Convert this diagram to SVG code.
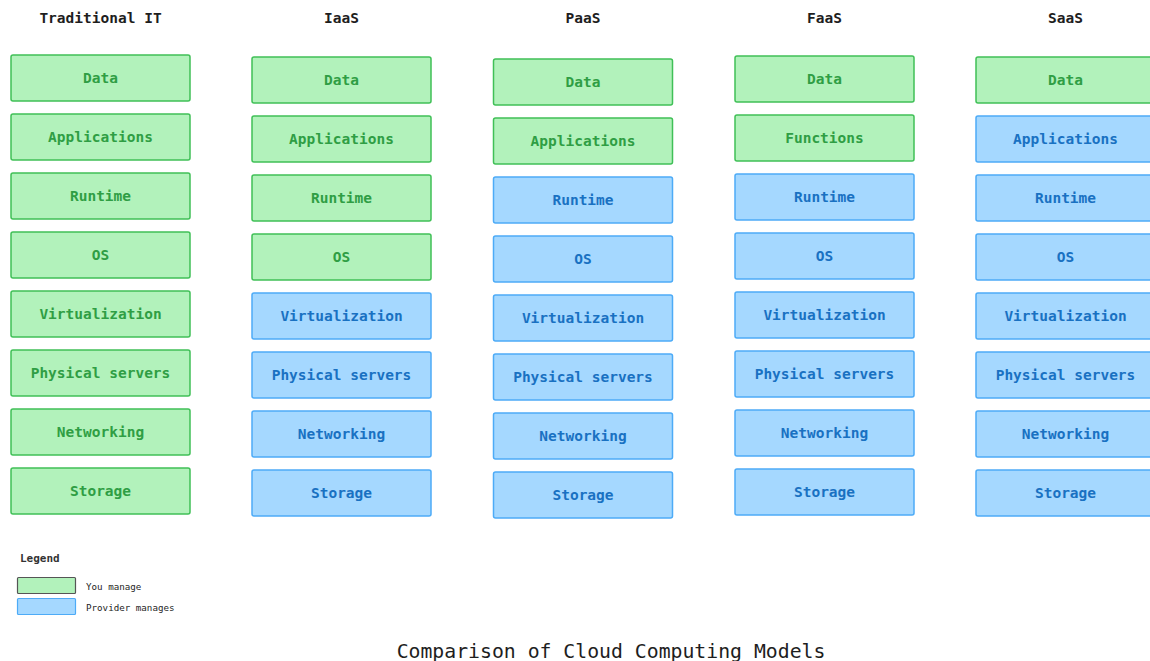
<svg xmlns="http://www.w3.org/2000/svg" width="1150" height="661" viewBox="0 0 1150 661">
  <style>
    .head { font-family: "DejaVu Sans Mono", "Liberation Mono", monospace; font-size: 14.5px; font-weight: bold; fill: #1e1e1e; text-anchor: middle; }
    .lbl { font-family: "DejaVu Sans Mono", "Liberation Mono", monospace; font-size: 14.5px; font-weight: bold; text-anchor: middle; dominant-baseline: central; }
    .you rect { fill: #b2f2bb; stroke: #40c057; stroke-width: 1.5; }
    .you text { fill: #2f9e44; }
    .prov rect { fill: #a5d8ff; stroke: #4dabf7; stroke-width: 1.5; }
    .prov text { fill: #1971c2; }
    .legend-title { font-family: "DejaVu Sans Mono", "Liberation Mono", monospace; font-size: 11px; font-weight: bold; fill: #333333; }
    .legend-txt { font-family: "DejaVu Sans Mono", "Liberation Mono", monospace; font-size: 9.2px; fill: #1e1e1e; }
    .title { font-family: "DejaVu Sans Mono", "Liberation Mono", monospace; font-size: 19.8px; fill: #1e1e1e; text-anchor: middle; }
  </style>

  <rect width="1150" height="661" fill="#ffffff"/>

  <!-- column headers -->
  <g id="headers">
    <text class="head" x="100.5" y="23">Traditional IT</text>
    <text class="head" x="341.5" y="23">IaaS</text>
    <text class="head" x="583" y="23">PaaS</text>
    <text class="head" x="824.5" y="23">FaaS</text>
    <text class="head" x="1065.5" y="23">SaaS</text>
  </g>

  <!-- Traditional IT: everything self-managed -->
  <g id="col-traditional">
    <g id="trad-data" class="you"><rect x="11" y="55" width="179" height="46" rx="2"/><text class="lbl" x="100.5" y="78">Data</text></g>
    <g id="trad-apps" class="you"><rect x="11" y="114" width="179" height="46" rx="2"/><text class="lbl" x="100.5" y="137">Applications</text></g>
    <g id="trad-runtime" class="you"><rect x="11" y="173" width="179" height="46" rx="2"/><text class="lbl" x="100.5" y="196">Runtime</text></g>
    <g id="trad-os" class="you"><rect x="11" y="232" width="179" height="46" rx="2"/><text class="lbl" x="100.5" y="255">OS</text></g>
    <g id="trad-virt" class="you"><rect x="11" y="291" width="179" height="46" rx="2"/><text class="lbl" x="100.5" y="314">Virtualization</text></g>
    <g id="trad-phys" class="you"><rect x="11" y="350" width="179" height="46" rx="2"/><text class="lbl" x="100.5" y="373">Physical servers</text></g>
    <g id="trad-net" class="you"><rect x="11" y="409" width="179" height="46" rx="2"/><text class="lbl" x="100.5" y="432">Networking</text></g>
    <g id="trad-storage" class="you"><rect x="11" y="468" width="179" height="46" rx="2"/><text class="lbl" x="100.5" y="491">Storage</text></g>
  </g>

  <!-- IaaS -->
  <g id="col-iaas">
    <g id="iaas-data" class="you"><rect x="252" y="57" width="179" height="46" rx="2"/><text class="lbl" x="341.5" y="80">Data</text></g>
    <g id="iaas-apps" class="you"><rect x="252" y="116" width="179" height="46" rx="2"/><text class="lbl" x="341.5" y="139">Applications</text></g>
    <g id="iaas-runtime" class="you"><rect x="252" y="175" width="179" height="46" rx="2"/><text class="lbl" x="341.5" y="198">Runtime</text></g>
    <g id="iaas-os" class="you"><rect x="252" y="234" width="179" height="46" rx="2"/><text class="lbl" x="341.5" y="257">OS</text></g>
    <g id="iaas-virt" class="prov"><rect x="252" y="293" width="179" height="46" rx="2"/><text class="lbl" x="341.5" y="316">Virtualization</text></g>
    <g id="iaas-phys" class="prov"><rect x="252" y="352" width="179" height="46" rx="2"/><text class="lbl" x="341.5" y="375">Physical servers</text></g>
    <g id="iaas-net" class="prov"><rect x="252" y="411" width="179" height="46" rx="2"/><text class="lbl" x="341.5" y="434">Networking</text></g>
    <g id="iaas-storage" class="prov"><rect x="252" y="470" width="179" height="46" rx="2"/><text class="lbl" x="341.5" y="493">Storage</text></g>
  </g>

  <!-- PaaS -->
  <g id="col-paas">
    <g id="paas-data" class="you"><rect x="493.5" y="59" width="179" height="46" rx="2"/><text class="lbl" x="583" y="82">Data</text></g>
    <g id="paas-apps" class="you"><rect x="493.5" y="118" width="179" height="46" rx="2"/><text class="lbl" x="583" y="141">Applications</text></g>
    <g id="paas-runtime" class="prov"><rect x="493.5" y="177" width="179" height="46" rx="2"/><text class="lbl" x="583" y="200">Runtime</text></g>
    <g id="paas-os" class="prov"><rect x="493.5" y="236" width="179" height="46" rx="2"/><text class="lbl" x="583" y="259">OS</text></g>
    <g id="paas-virt" class="prov"><rect x="493.5" y="295" width="179" height="46" rx="2"/><text class="lbl" x="583" y="318">Virtualization</text></g>
    <g id="paas-phys" class="prov"><rect x="493.5" y="354" width="179" height="46" rx="2"/><text class="lbl" x="583" y="377">Physical servers</text></g>
    <g id="paas-net" class="prov"><rect x="493.5" y="413" width="179" height="46" rx="2"/><text class="lbl" x="583" y="436">Networking</text></g>
    <g id="paas-storage" class="prov"><rect x="493.5" y="472" width="179" height="46" rx="2"/><text class="lbl" x="583" y="495">Storage</text></g>
  </g>

  <!-- FaaS -->
  <g id="col-faas">
    <g id="faas-data" class="you"><rect x="735" y="56" width="179" height="46" rx="2"/><text class="lbl" x="824.5" y="79">Data</text></g>
    <g id="faas-functions" class="you"><rect x="735" y="115" width="179" height="46" rx="2"/><text class="lbl" x="824.5" y="138">Functions</text></g>
    <g id="faas-runtime" class="prov"><rect x="735" y="174" width="179" height="46" rx="2"/><text class="lbl" x="824.5" y="197">Runtime</text></g>
    <g id="faas-os" class="prov"><rect x="735" y="233" width="179" height="46" rx="2"/><text class="lbl" x="824.5" y="256">OS</text></g>
    <g id="faas-virt" class="prov"><rect x="735" y="292" width="179" height="46" rx="2"/><text class="lbl" x="824.5" y="315">Virtualization</text></g>
    <g id="faas-phys" class="prov"><rect x="735" y="351" width="179" height="46" rx="2"/><text class="lbl" x="824.5" y="374">Physical servers</text></g>
    <g id="faas-net" class="prov"><rect x="735" y="410" width="179" height="46" rx="2"/><text class="lbl" x="824.5" y="433">Networking</text></g>
    <g id="faas-storage" class="prov"><rect x="735" y="469" width="179" height="46" rx="2"/><text class="lbl" x="824.5" y="492">Storage</text></g>
  </g>

  <!-- SaaS -->
  <g id="col-saas">
    <g id="saas-data" class="you"><rect x="976" y="57" width="179" height="46" rx="2"/><text class="lbl" x="1065.5" y="80">Data</text></g>
    <g id="saas-apps" class="prov"><rect x="976" y="116" width="179" height="46" rx="2"/><text class="lbl" x="1065.5" y="139">Applications</text></g>
    <g id="saas-runtime" class="prov"><rect x="976" y="175" width="179" height="46" rx="2"/><text class="lbl" x="1065.5" y="198">Runtime</text></g>
    <g id="saas-os" class="prov"><rect x="976" y="234" width="179" height="46" rx="2"/><text class="lbl" x="1065.5" y="257">OS</text></g>
    <g id="saas-virt" class="prov"><rect x="976" y="293" width="179" height="46" rx="2"/><text class="lbl" x="1065.5" y="316">Virtualization</text></g>
    <g id="saas-phys" class="prov"><rect x="976" y="352" width="179" height="46" rx="2"/><text class="lbl" x="1065.5" y="375">Physical servers</text></g>
    <g id="saas-net" class="prov"><rect x="976" y="411" width="179" height="46" rx="2"/><text class="lbl" x="1065.5" y="434">Networking</text></g>
    <g id="saas-storage" class="prov"><rect x="976" y="470" width="179" height="46" rx="2"/><text class="lbl" x="1065.5" y="493">Storage</text></g>
  </g>

  <!-- no connectors in this chart -->
  <g id="connectors"/>

  <!-- legend -->
  <g id="legend">
    <text class="legend-title" x="20" y="562">Legend</text>
    <rect x="17.5" y="577.5" width="58" height="16" rx="1" fill="#b2f2bb" stroke="#555555" stroke-width="1.2"/>
    <text class="legend-txt" x="86" y="590">You manage</text>
    <rect x="17.5" y="598.5" width="58" height="16" rx="1" fill="#a5d8ff" stroke="#4dabf7" stroke-width="1.2"/>
    <text class="legend-txt" x="86" y="611">Provider manages</text>
  </g>

  <text class="title" x="611" y="658">Comparison of Cloud Computing Models</text>
</svg>
